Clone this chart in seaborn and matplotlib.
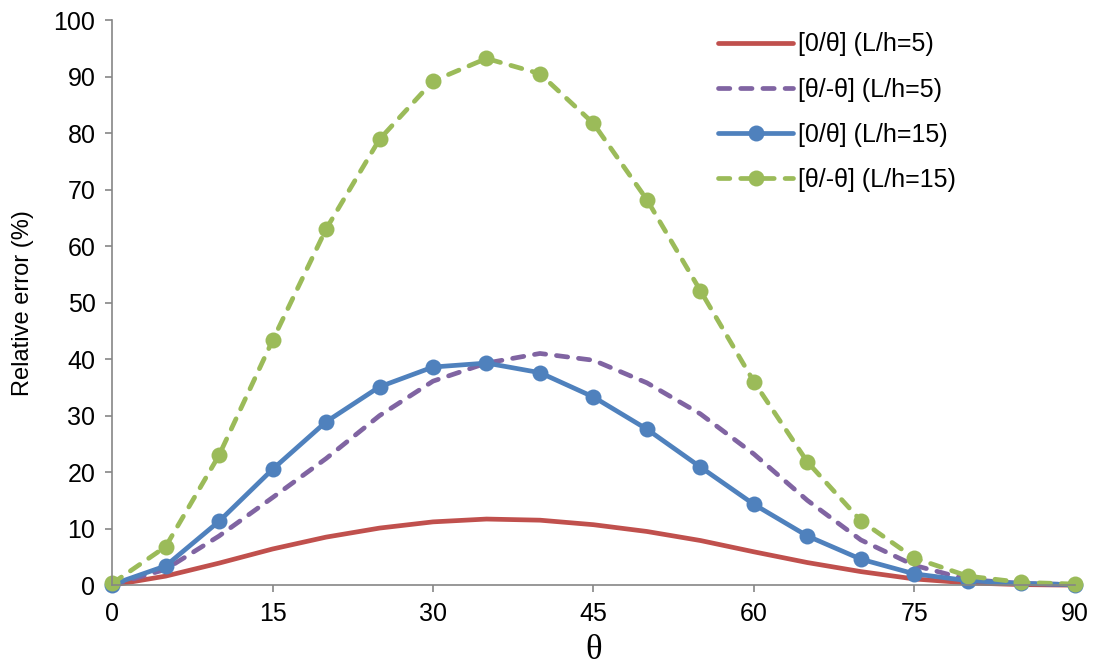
import seaborn as sns
import pandas as pd
import matplotlib.pyplot as plt
import numpy as np

# ply angle (deg)
theta = [0, 5, 10, 15, 20, 25, 30, 35, 40, 45, 50, 55, 60, 65, 70, 75, 80, 85, 90]

# relative error (%)
red_lh5 = [0.0, 1.6, 3.9, 6.4, 8.5, 10.1, 11.2, 11.7, 11.5, 10.7, 9.5, 7.9, 5.9, 4.0, 2.4, 1.1, 0.4, 0.1, 0.0]
purple_lh5 = [0.0, 2.8, 8.7, 15.5, 22.4, 30.0, 36.1, 39.3, 41.0, 39.8, 35.8, 30.3, 23.2, 15.0, 8.0, 3.5, 1.0, 0.3, 0.1]
blue_lh15 = [0.1, 3.4, 11.3, 20.5, 28.9, 35.1, 38.6, 39.3, 37.6, 33.3, 27.6, 20.9, 14.3, 8.7, 4.6, 2.0, 0.8, 0.3, 0.1]
green_lh15 = [0.3, 6.8, 23.0, 43.3, 63.0, 78.9, 89.2, 93.2, 90.5, 81.7, 68.2, 52.1, 36.0, 21.8, 11.4, 4.8, 1.6, 0.5, 0.2]

labels = ["[0/θ] (L/h=5)", "[θ/-θ] (L/h=5)", "[0/θ] (L/h=15)", "[θ/-θ] (L/h=15)"]
colors = ["#C0504D", "#8064A2", "#4F81BD", "#9BBB59"]
dashed = [False, True, False, True]
marked = [False, False, True, True]

sns.set_style("white")
plt.rcParams['font.family'] = ['Liberation Sans', 'DejaVu Sans']
plt.rcParams['text.color'] = 'black'
plt.rcParams['axes.labelcolor'] = 'black'
plt.rcParams['xtick.color'] = 'black'
plt.rcParams['ytick.color'] = 'black'

fig = plt.figure(figsize=(10.99, 6.68), dpi=100)
ax = fig.add_axes([0.102, 0.124, 0.876, 0.846])

series = [red_lh5, purple_lh5, blue_lh15, green_lh15]
handles = []
for vals, lab, col, dsh, mk in zip(series, labels, colors, dashed, marked):
    df = pd.DataFrame({"theta": theta, "err": vals})
    sns.lineplot(data=df, x="theta", y="err", ax=ax, color=col, linewidth=3.4,
                 marker="o" if mk else None, markersize=11.5, markeredgewidth=0,
                 label=lab)
    ln = ax.lines[-1]
    if dsh:
        ln.set_dashes((2.4, 2.3))
        ln.set_dash_capstyle("round")
    else:
        ln.set_solid_capstyle("round")
    ln.set_solid_joinstyle("round")
    ln.set_clip_on(False)
    handles.append(ln)

ax.set_xlim(0, 90)
ax.set_ylim(0, 100)
ax.set_xticks(range(0, 91, 15))
ax.set_yticks(range(0, 101, 10))
ax.tick_params(axis="both", labelsize=18, direction="out", length=5, width=1.2,
               color="#868686", bottom=True, left=True, pad=7)
ax.set_xlabel("θ", fontsize=25, family=["Liberation Serif"], labelpad=6)
ax.set_ylabel("Relative error (%)", fontsize=17, labelpad=14)

for s in ["top", "right"]:
    ax.spines[s].set_visible(False)
for s in ["left", "bottom"]:
    ax.spines[s].set_color("#868686")
    ax.spines[s].set_linewidth(1.2)

ax.legend(handles=handles, labels=labels, loc="upper left", frameon=False,
          fontsize=18, handlelength=3.0, handletextpad=0.2, labelspacing=0.85,
          bbox_to_anchor=(0.619, 0.996), borderaxespad=0)

fig.savefig("out.png", dpi=100)
